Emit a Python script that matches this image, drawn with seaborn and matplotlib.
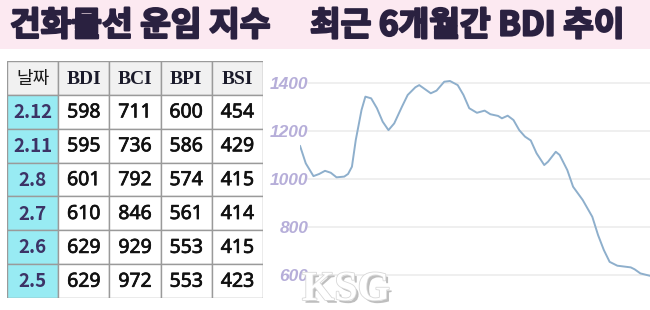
import matplotlib
matplotlib.use('Agg')
import matplotlib.pyplot as plt
import seaborn as sns
import pandas as pd
from matplotlib.patches import Rectangle
import matplotlib.patheffects as pe

# ---------------- data ----------------
title_left = "건화물선 운임 지수"
title_right = "최근 6개월간 BDI 추이"

table_header = ["날짜", "BDI", "BCI", "BPI", "BSI"]
dates = ["2.12", "2.11", "2.8", "2.7", "2.6", "2.5"]
bdi_tbl = [598, 595, 601, 610, 629, 629]
bci_tbl = [711, 736, 792, 846, 929, 972]
bpi_tbl = [600, 586, 574, 561, 553, 553]
bsi_tbl = [454, 429, 415, 414, 415, 423]

# 6-month BDI trend (day offset, index value)
day = [0, 3, 7, 10, 13, 16, 19, 23, 25, 27, 29, 32, 34, 37, 40, 43, 46, 49,
       53, 56, 60, 62, 65, 68, 71, 75, 78, 82, 85, 88, 92, 96, 99, 103, 105,
       108, 111, 114, 117, 120, 123, 127, 129, 133, 135, 139, 142, 147, 152,
       155, 158, 161, 165, 172, 174, 177, 182]
bdi = [1138, 1065, 1012, 1021, 1034, 1026, 1007, 1010, 1021, 1051, 1162,
       1287, 1342, 1335, 1294, 1238, 1203, 1231, 1300, 1349, 1381, 1390,
       1373, 1356, 1367, 1404, 1407, 1390, 1349, 1294, 1275, 1284, 1269,
       1262, 1252, 1263, 1245, 1203, 1176, 1160, 1107, 1058, 1072, 1113,
       1100, 1037, 968, 913, 843, 767, 705, 656, 640, 633, 625, 608, 598]
y_ticks = [600, 800, 1000, 1200, 1400]

# ---------------- style ----------------
sns.set_theme(style='white')
plt.rcParams['font.family'] = ['Noto Sans CJK KR', 'DejaVu Sans']

W, H = 650, 310
fig = plt.figure(figsize=(6.5, 3.1), dpi=100)
fig.patch.set_facecolor('white')


def box(x0, y0, x1, y1):
    return [x0 / W, (H - y1) / H, (x1 - x0) / W, (y1 - y0) / H]


# title band
fig.patches.append(Rectangle((0, (H - 49) / H), 1, 49 / H, transform=fig.transFigure,
                             facecolor='#fce9f1', edgecolor='none', zorder=0))
title_kw = dict(fontsize=24, weight='bold', color='#2a2140', va='center', ha='left',
                path_effects=[pe.withStroke(linewidth=1.6, foreground='#2a2140')])
fig.text(10 / W, 1 - 26 / H, title_left, **title_kw)
fig.text(310 / W, 1 - 26 / H, title_right, **title_kw)

# ---------------- table ----------------
axt = fig.add_axes(box(7, 61, 263, 298))
axt.set_xlim(0, 5)
axt.set_ylim(7, 0)
axt.axis('off')
cols = [bdi_tbl, bci_tbl, bpi_tbl, bsi_tbl]
for c, h in enumerate(table_header):
    axt.add_patch(Rectangle((c, 0), 1, 1, facecolor='#f1f1f1', edgecolor='#9a9a9a', lw=1))
    if c == 0:
        axt.text(c + 0.5, 0.52, h, ha='center', va='center', fontsize=13, color='#1a1a1a')
    else:
        axt.text(c + 0.5, 0.55, h, ha='center', va='center', fontsize=14, weight='bold',
                 family='Liberation Serif', color='#1a1a2a')
for r, d in enumerate(dates):
    axt.add_patch(Rectangle((0, r + 1), 1, 1, facecolor='#98ebf3', edgecolor='#9a9a9a', lw=1))
    axt.text(0.5, r + 1.52, d, ha='center', va='center', fontsize=13.5, weight='bold',
             color='#3c3366')
    for c, col in enumerate(cols):
        axt.add_patch(Rectangle((c + 1, r + 1), 1, 1, facecolor='white', edgecolor='#9a9a9a', lw=1))
        axt.text(c + 1.5, r + 1.52, str(col[r]), ha='center', va='center', fontsize=14,
                 family=['Noto Sans', 'DejaVu Sans'], weight='medium', color='#111111',
                 path_effects=[pe.withStroke(linewidth=0.5, foreground='#111111')])

# ---------------- line chart ----------------
df = pd.DataFrame({'day': day, 'BDI': bdi})
ax = fig.add_axes(box(300, 55, 650, 310))
for v in y_ticks:
    ax.axhline(v, xmin=8 / 350, color='#ececec', lw=1.2, zorder=0)
sns.lineplot(data=df, x='day', y='BDI', ax=ax, color='#8eafcc', lw=1.4, zorder=3)
ax.set_xlim(0, 182)
ax.set_ylim(456, 1515)
ax.set_xticks([])
ax.set_yticks(y_ticks)
ax.set_yticklabels([str(v) for v in y_ticks], fontsize=12.5, fontstyle='italic', weight='bold',
                   family='Liberation Sans', color='#b6aed9')
ax.tick_params(axis='y', length=0, pad=-6)
for lab in ax.get_yticklabels():
    lab.set_zorder(1)
ax.set_xlabel('')
ax.set_ylabel('')
for s in ax.spines.values():
    s.set_visible(False)
ax.patch.set_alpha(0)

# watermark
fig.text(302 / W, 1 - 300 / H, 'KSG', fontsize=30, family='Liberation Serif', weight='bold',
         color='white', va='baseline', ha='left', zorder=10,
         path_effects=[pe.withSimplePatchShadow(offset=(2, -2), shadow_rgbFace='#8a8a8a',
                                                alpha=0.55),
                       pe.withStroke(linewidth=1.2, foreground='#d8d8d8')])

fig.savefig('out.png', dpi=100, facecolor='white')
